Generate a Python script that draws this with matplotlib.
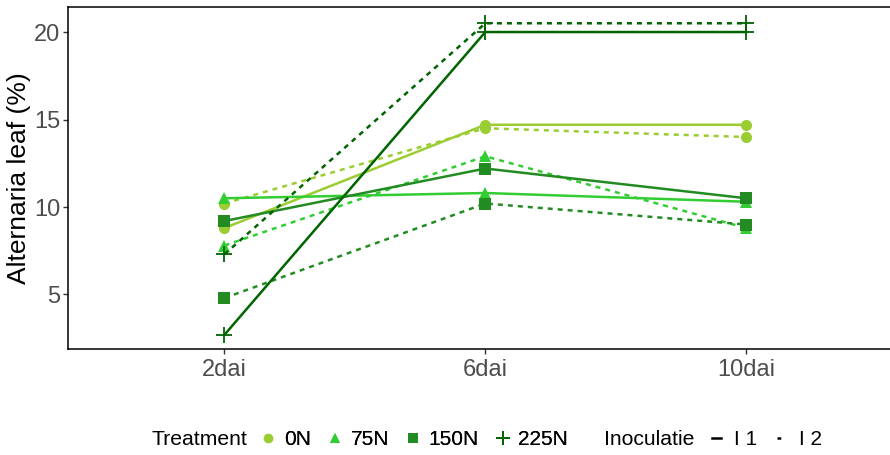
import matplotlib.pyplot as plt
from matplotlib.lines import Line2D

plt.rcParams['font.family'] = ['Liberation Sans', 'DejaVu Sans']

# time points after inoculation
dias = ['2dai', '6dai', '10dai']

# nitrogen treatments, colors and markers
tratamientos = ['0N', '75N', '150N', '225N']
colores = ['#9ACD32', '#32CD32', '#228B22', '#006400']
marcadores = ['o', '^', 's', '+']

# Alternaria leaf (%) for inoculation I1 (solid) and I2 (dashed)
i1 = {
    '0N':   [8.8, 14.7, 14.7],
    '75N':  [10.5, 10.8, 10.3],
    '150N': [9.2, 12.2, 10.5],
    '225N': [2.7, 20.0, 20.0],
}
i2 = {
    '0N':   [10.2, 14.5, 14.0],
    '75N':  [7.8, 12.9, 8.8],
    '150N': [4.8, 10.2, 9.0],
    '225N': [7.3, 20.5, 20.5],
}

fig = plt.figure(figsize=(8.9, 4.55), dpi=100)
ax = fig.add_axes([0.0764, 0.233, 0.9378, 0.7516])

x = range(len(dias))
tam = {'o': 8, '^': 9, 's': 8, '+': 12}
for t, c, m in zip(tratamientos, colores, marcadores):
    ms = tam[m]
    mew = 1.3 if m == '+' else 0
    ax.plot(x, i1[t], color=c, lw=1.8, ls='-', marker=m, ms=ms, mew=mew, mec=c)
    ax.plot(x, i2[t], color=c, lw=1.8, ls=(0, (2, 2)), marker=m, ms=ms, mew=mew, mec=c)

ax.set_xlim(-0.6, 2.6)
ax.set_ylim(1.886, 21.43)
ax.set_xticks(list(x))
ax.set_xticklabels(dias)
ax.set_yticks([5, 10, 15, 20])
ax.tick_params(axis='both', labelsize=17, labelcolor='#4D4D4D', color='#333333',
               length=3.5, width=1)
ax.tick_params(axis='y', pad=2)
ax.set_ylabel('Alternaria leaf (%)', fontsize=19, color='black', labelpad=2)
for s in ax.spines.values():
    s.set_linewidth(1.1)
    s.set_color('black')

# legend row at the bottom
yl = 0.033
fig.text(152 / 890, yl, 'Treatment', fontsize=15.2, va='center', ha='left')
h1 = [Line2D([], [], color=c, marker=m, ls='none', ms=tam[m] * 0.85,
             mew=1.3 if m == '+' else 0, mec=c)
      for c, m in zip(colores, marcadores)]
leg1 = fig.legend(h1, tratamientos, loc='center left', bbox_to_anchor=(260 / 890, yl),
                  ncol=4, frameon=False, fontsize=15, handlelength=0.8,
                  handletextpad=0.35, columnspacing=0.75, borderpad=0, borderaxespad=0)
fig.text(604 / 890, yl, 'Inoculatie', fontsize=15.2, va='center', ha='left')
h2 = [Line2D([], [], color='black', lw=1.8, ls='-'),
      Line2D([], [], color='black', lw=1.8, ls=(0, (1.5, 4)))]
fig.legend(h2, ['I 1', 'I 2'], loc='center left', bbox_to_anchor=(712 / 890, yl),
           ncol=2, frameon=False, fontsize=15, handlelength=0.45,
           handletextpad=0.6, columnspacing=0.95, borderpad=0, borderaxespad=0)
fig.add_artist(leg1)

fig.savefig('out.png', dpi=100)
